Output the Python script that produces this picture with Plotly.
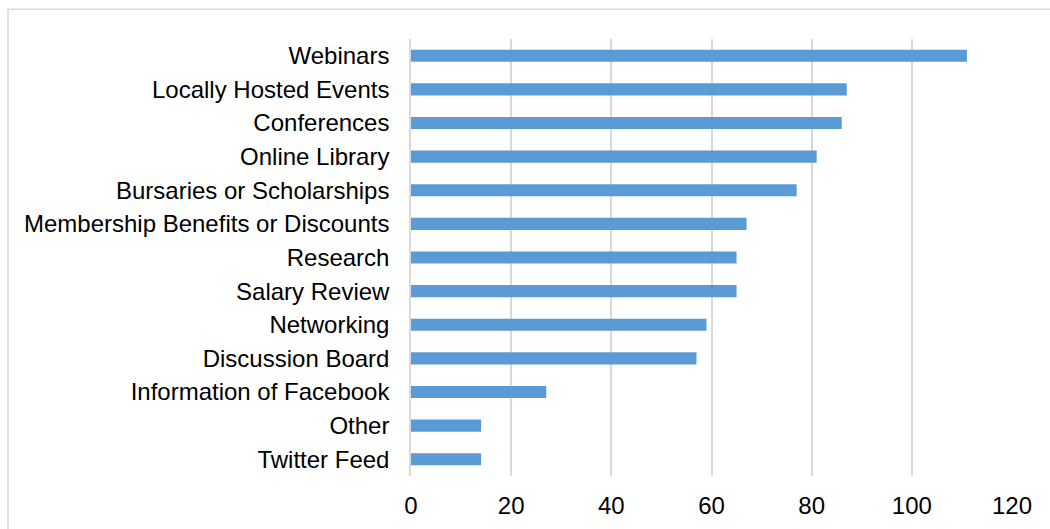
import plotly.graph_objects as go

# Survey responses per resource (top to bottom as displayed)
categories = [
    "Webinars",
    "Locally Hosted Events",
    "Conferences",
    "Online Library",
    "Bursaries or Scholarships",
    "Membership Benefits or Discounts",
    "Research",
    "Salary Review",
    "Networking",
    "Discussion Board",
    "Information of Facebook",
    "Other",
    "Twitter Feed",
]
counts = [111, 87, 86, 81, 77, 67, 65, 65, 59, 57, 27, 14, 14]
x_ticks = [0, 20, 40, 60, 80, 100, 120]

fig = go.Figure(
    go.Bar(
        y=categories,
        x=counts,
        orientation="h",
        marker=dict(color="#5b9bd5", line=dict(width=0)),
        width=0.36,
    )
)

fig.update_layout(
    width=1050,
    height=529,
    margin=dict(l=411, r=38, t=39, b=53),
    paper_bgcolor="white",
    plot_bgcolor="white",
    showlegend=False,
    font=dict(family="Liberation Sans, Arial, sans-serif", size=24, color="#000000"),
    shapes=[
        dict(
            type="rect",
            xref="paper",
            yref="paper",
            x0=-0.6705,
            x1=1.2,
            y0=-0.3,
            y1=1.068,
            line=dict(color="#d9d9d9", width=1.5),
            fillcolor="rgba(0,0,0,0)",
            layer="below",
        )
    ],
)

fig.update_xaxes(
    range=[0, 120],
    tickvals=x_ticks,
    ticktext=[str(v) for v in x_ticks],
    showgrid=True,
    gridcolor="#d9d9d9",
    gridwidth=1.5,
    zeroline=False,
    showline=False,
    ticks="",
    ticklabelstandoff=13,
    automargin=False,
)

fig.update_yaxes(
    categoryorder="array",
    categoryarray=categories[::-1],
    range=[-0.5, len(categories) - 0.5],
    showgrid=False,
    zeroline=False,
    showline=True,
    linecolor="#d9d9d9",
    linewidth=1.5,
    ticks="",
    ticklabelstandoff=15,
    automargin=False,
)

fig.write_html("out.html")
